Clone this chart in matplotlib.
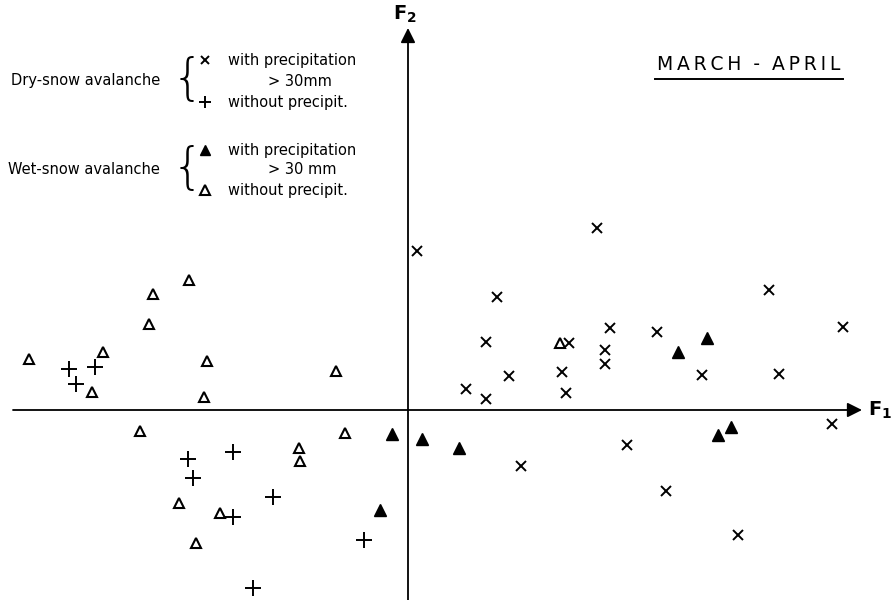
import matplotlib.pyplot as plt

# factor scores (F1, F2) of each avalanche event, March-April
dry_precip_f1 = [0.09, 1.89, 0.89, 3.61, 2.02, 2.49, 4.35, 0.78, 1.61, 1.97, 1.97, 1.54,
                 1.01, 2.94, 3.71, 0.58, 0.78, 1.58, 1.13, 2.19, 4.24, 2.58, 3.30]
dry_precip_f2 = [1.59, 1.82, 1.13, 1.20, 0.82, 0.78, 0.83, 0.68, 0.67, 0.60, 0.46, 0.38,
                 0.34, 0.35, 0.36, 0.21, 0.11, 0.17, -0.56, -0.35, -0.14, -0.81, -1.25]

dry_noprecip_f1 = [-3.39, -3.13, -3.32, -2.20, -1.75, -2.15, -1.35, -1.75, -0.44, -1.55]
dry_noprecip_f2 = [0.41, 0.43, 0.26, -0.49, -0.42, -0.68, -0.87, -1.07, -1.30, -1.78]

wet_precip_f1 = [2.70, 2.99, -0.16, 0.14, 0.51, 3.10, 3.23, -0.28]
wet_precip_f2 = [0.58, 0.72, -0.24, -0.29, -0.38, -0.25, -0.17, -1.00]

wet_noprecip_f1 = [-3.79, -2.19, -2.55, -2.59, -3.05, -2.01, -0.72, -3.16, -2.04, 1.52,
                   -2.68, -0.63, -1.09, -1.08, -2.29, -1.88, -2.12]
wet_noprecip_f2 = [0.51, 1.30, 1.16, 0.86, 0.58, 0.49, 0.39, 0.18, 0.13, 0.67,
                   -0.21, -0.23, -0.38, -0.51, -0.93, -1.03, -1.33]

fig = plt.figure(figsize=(8.91, 6.0), dpi=100)
ax = fig.add_axes([0, 0, 1, 1])
ax.set_xlim(-4.08, 4.83)
ax.set_ylim(-1.90, 4.10)
ax.axis('off')

# coordinate axes with arrow heads
arrow = dict(arrowstyle='-|>', lw=1.3, color='black', mutation_scale=22, shrinkA=0, shrinkB=0)
ax.annotate('', xy=(4.54, 0.0), xytext=(-3.95, 0.0), arrowprops=arrow)
ax.annotate('', xy=(0.0, 3.82), xytext=(0.0, -1.95), arrowprops=arrow)
ax.text(4.60, 0.0, r'$\mathbf{F_1}$', fontsize=14, va='center', ha='left')
ax.text(-0.03, 3.96, r'$\mathbf{F_2}$', fontsize=14, va='center', ha='center')

x_style = dict(marker='x', markersize=7, mew=1.4)
plus_style = dict(marker='+', markersize=11, mew=1.4)
solid_tri = dict(marker='^', markersize=8)
open_tri = dict(marker='^', markersize=7.5, mew=1.5, mfc='white')
mk = dict(color='black', mec='black', linestyle='none')

ax.plot(dry_precip_f1, dry_precip_f2, **x_style, **mk)
ax.plot(dry_noprecip_f1, dry_noprecip_f2, **plus_style, **mk)
ax.plot(wet_precip_f1, wet_precip_f2, **solid_tri, **mk)
ax.plot(wet_noprecip_f1, wet_noprecip_f2, **open_tri, **mk)

# period title, letters spread out with thin spaces
title = '\u2009'.join('MARCH') + '  -  ' + '\u2009'.join('APRIL')
ax.text(3.41, 3.45, title, fontsize=13.5, ha='center', va='center')
ax.plot([2.47, 4.35], [3.315, 3.315], color='black', lw=1.4)

# legend block (pixel positions converted to figure fraction)
fs = 10.5
def legend_group(y_top, y_mid, y_bot, name, syms, gap):
    fig.text(160 / 891, 1 - y_mid / 600, name, fontsize=fs, ha='right', va='center')
    fig.text(187 / 891, 1 - (y_mid - 1) / 600, '{', fontsize=36, ha='center', va='center',
             fontweight='light')
    for y, s in zip((y_top, y_bot), syms):
        ax.plot(2.05 - 4.08, 4.10 - y / 100, **s, **mk)
    fig.text(228 / 891, 1 - y_top / 600, 'with precipitation', fontsize=fs, va='center')
    fig.text(268 / 891, 1 - y_mid / 600, '> 30' + gap + 'mm', fontsize=fs, va='center')
    fig.text(228 / 891, 1 - y_bot / 600, 'without precipit.', fontsize=fs, va='center')

legend_group(60, 81, 102, 'Dry-snow avalanche',
             [dict(x_style, markersize=6), dict(plus_style, markersize=9)], '')
legend_group(150, 170, 190, 'Wet-snow avalanche',
             [dict(solid_tri, markersize=7), dict(open_tri, markersize=6.5)], ' ')

fig.savefig('out.png', dpi=100)
